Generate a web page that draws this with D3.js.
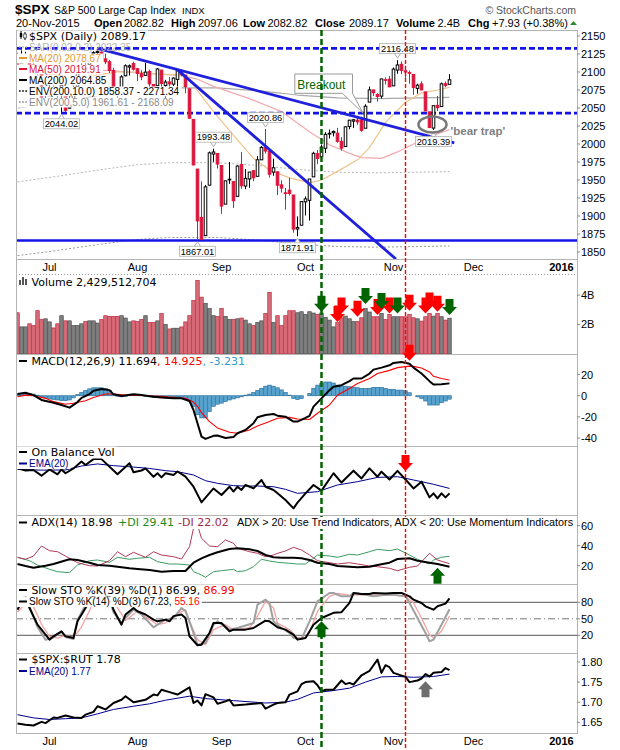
<!DOCTYPE html>
<html>
<head>
<meta charset="utf-8">
<title>$SPX Daily</title>
<script src="https://cdnjs.cloudflare.com/ajax/libs/d3/7.8.5/d3.min.js"></script>
<style>
  body { margin: 0; background: #fff; }
  svg { display: block; }
  text { white-space: pre; }
</style>
</head>
<body>
<div id="chart"></div>
<script>
// ---------- data (trading days 19-Jun-2015 .. 20-Nov-2015) ----------
var dates = ['06/19','06/22','06/23','06/24','06/25','06/26','06/29','06/30',
  '07/01','07/02','07/06','07/07','07/08','07/09','07/10','07/13','07/14','07/15','07/16','07/17','07/20','07/21','07/22','07/23','07/24','07/27','07/28','07/29','07/30','07/31',
  '08/03','08/04','08/05','08/06','08/07','08/10','08/11','08/12','08/13','08/14','08/17','08/18','08/19','08/20','08/21','08/24','08/25','08/26','08/27','08/28','08/31',
  '09/01','09/02','09/03','09/04','09/08','09/09','09/10','09/11','09/14','09/15','09/16','09/17','09/18','09/21','09/22','09/23','09/24','09/25','09/28','09/29','09/30',
  '10/01','10/02','10/05','10/06','10/07','10/08','10/09','10/12','10/13','10/14','10/15','10/16','10/19','10/20','10/21','10/22','10/23','10/26','10/27','10/28','10/29','10/30',
  '11/02','11/03','11/04','11/05','11/06','11/09','11/10','11/11','11/12','11/13','11/16','11/17','11/18','11/19','11/20'];

var opens = [2121.06,2112.50,2123.16,2123.65,2109.96,2102.62,2098.63,2061.19,2067.00,2078.03,
  2073.95,2069.52,2077.66,2049.73,2052.74,2080.03,2099.72,2109.01,2110.55,2126.80,
  2126.85,2127.55,2118.21,2114.16,2102.24,2078.19,2070.75,2094.70,2106.78,2111.60,
  2104.49,2097.68,2095.27,2100.75,2082.61,2080.98,2102.66,2081.10,2086.19,2083.15,
  2089.70,2101.99,2095.69,2076.61,2034.08,1965.15,1898.08,1872.75,1942.77,1986.06,
  1986.73,1970.09,1916.52,1950.79,1947.76,1927.30,1971.45,1941.59,1951.45,1963.06,
  1955.10,1978.02,1995.33,1989.66,1960.84,1961.39,1943.24,1932.24,1935.93,1929.18,
  1881.90,1887.14,1919.65,1921.77,1954.33,1986.63,1982.34,1994.01,2013.73,2015.65,
  2015.00,2003.66,1996.47,2024.37,2031.73,2033.13,2033.47,2021.88,2058.19,2075.08,
  2068.75,2066.48,2088.35,2090.00,2080.76,2102.63,2110.60,2101.68,2098.60,2096.56,
  2077.19,2083.41,2072.29,2044.64,2022.08,2053.67,2051.99,2083.70,2082.82];
var highs = [2126.69,2129.87,2128.03,2125.10,2116.04,2108.92,2098.63,2074.28,2082.78,2085.06,
  2078.61,2083.74,2077.66,2074.28,2081.31,2100.67,2111.98,2114.14,2124.42,2128.91,
  2132.82,2128.48,2125.55,2116.87,2106.01,2078.19,2095.60,2110.60,2110.48,2114.24,
  2105.70,2102.51,2112.66,2103.32,2082.61,2105.35,2102.66,2089.06,2092.93,2092.45,
  2102.87,2103.47,2096.17,2076.61,2034.08,1965.15,1948.04,1943.09,1989.60,1993.48,
  1986.73,1970.09,1948.91,1975.01,1947.76,1970.42,1988.63,1965.29,1961.05,1963.06,
  1983.19,1997.26,2020.86,1989.66,1979.64,1961.39,1949.52,1938.88,1952.89,1929.18,
  1899.48,1920.53,1927.21,1951.36,1989.17,1991.62,1999.31,2016.50,2020.13,2018.66,
  2022.34,2009.56,2024.15,2033.54,2034.45,2039.12,2037.97,2055.20,2079.74,2075.14,
  2070.37,2090.35,2092.52,2094.32,2106.20,2116.48,2114.59,2108.78,2101.91,2096.56,
  2083.67,2086.94,2072.29,2044.64,2053.22,2066.69,2085.31,2086.74,2097.06];
var lows = [2107.04,2112.50,2119.89,2108.58,2101.78,2095.38,2056.64,2056.32,2067.00,2071.02,
  2058.40,2044.02,2044.66,2049.73,2052.74,2080.03,2098.18,2102.49,2110.55,2119.88,
  2123.66,2115.40,2110.97,2098.63,2077.09,2063.52,2069.09,2094.08,2094.97,2102.07,
  2087.31,2088.60,2095.27,2075.53,2067.91,2080.98,2076.49,2052.09,2078.26,2080.61,
  2079.30,2094.14,2070.53,2035.73,1970.89,1867.01,1867.08,1872.75,1942.77,1975.19,
  1965.98,1903.07,1916.52,1944.72,1911.21,1927.30,1937.88,1937.19,1939.19,1948.27,
  1954.30,1977.93,1986.73,1953.45,1955.80,1929.22,1932.57,1908.90,1928.52,1876.92,
  1871.91,1887.14,1900.70,1893.70,1954.33,1971.99,1976.44,1987.53,2007.61,2010.55,
  2001.78,1990.73,1996.47,2020.46,2022.31,2026.61,2017.22,2021.88,2058.19,2066.53,
  2058.84,2063.11,2082.63,2079.34,2080.76,2097.51,2096.98,2090.41,2083.74,2068.24,
  2069.91,2074.85,2045.66,2022.02,2019.39,2045.90,2051.99,2078.76,2082.82];
var closes = [2109.99,2122.85,2124.20,2108.58,2102.31,2101.49,2057.64,2063.11,2077.42,2076.78,
  2068.76,2081.34,2046.68,2051.31,2076.62,2099.60,2108.95,2107.40,2124.29,2126.64,
  2128.28,2119.21,2114.15,2102.15,2079.65,2067.64,2093.25,2108.57,2108.63,2103.84,
  2098.04,2093.32,2099.84,2083.56,2077.57,2104.18,2084.07,2086.05,2083.39,2091.54,
  2102.44,2096.92,2079.61,2035.73,1970.89,1893.21,1867.61,1940.51,1987.66,1988.87,
  1972.18,1913.85,1948.86,1951.13,1921.22,1969.41,1942.04,1952.29,1961.05,1953.03,
  1978.09,1995.31,1990.20,1958.03,1966.97,1942.74,1938.76,1932.24,1931.34,1881.77,
  1884.09,1920.03,1923.82,1951.36,1987.05,1979.92,1995.83,2013.43,2014.89,2017.46,
  2003.69,1994.24,2023.86,2033.11,2033.66,2030.77,2018.94,2052.51,2075.15,2071.18,
  2065.89,2090.35,2089.41,2079.36,2104.05,2109.79,2102.31,2099.93,2099.20,2078.58,
  2081.72,2075.00,2045.97,2023.04,2053.19,2050.44,2083.58,2081.24,2089.17];
// volume, billions of shares
var volumes = [2.8,1.84,1.84,2.05,1.93,2.94,2.34,2.39,2.18,1.77,
  2.05,2.6,2.25,2.25,1.93,1.93,2.05,2.2,2.25,2.25,
  2.1,2.34,2.6,2.55,2.55,2.55,2.6,2.44,2.18,2.25,
  2.2,2.34,2.6,2.14,2.14,2.25,2.74,2.0,1.7,1.75,
  1.75,1.84,2.18,2.6,3.63,5.0,3.86,3.43,3.08,2.6,
  2.55,3.08,2.55,2.34,2.34,2.39,2.44,2.3,2.05,1.93,
  2.14,2.25,2.74,4.18,2.14,2.6,1.93,2.6,2.94,2.94,
  2.8,2.87,2.69,2.87,2.78,2.69,2.78,2.48,2.3,1.84,
  2.16,2.46,2.57,2.39,2.2,2.2,2.46,3.08,2.85,2.53,
  2.53,2.76,2.34,2.69,2.53,2.53,2.53,2.53,2.69,2.46,
  2.39,2.23,2.53,2.76,2.57,2.76,2.53,2.3,2.429512704];

// overlays, [trading day index, value]
var ma20 = [[0,2106],[8,2097],[15,2092],[20,2096],[25,2100],[30,2100],[35,2097],[41,2096],[43,2090],[45,2074],[49,2045],[54,2012],[59,1980],[63,1964],[68,1953],[73,1946],[76,1950],[80,1962],[85,1978],[88,1995],[92,2030],[97,2058],[101,2071],[105,2075],[108,2078.67]];
var ma50 = [[0,2102],[20,2103],[30,2099],[41,2095],[45,2090],[49,2080],[58,2063],[66,2045],[73,2017],[78,1999],[83,1987],[86,1981],[91,1980],[95,1989],[99,2000],[103,2010],[108,2019.91]];
var ma200 = [[0,2050],[10,2058],[20,2067],[30,2075],[38,2078],[50,2078],[60,2074],[70,2068],[80,2064],[90,2063],[100,2064],[108,2064.85]];
var env5Low = [[0,1947.5],[10,1955.1],[20,1963.7],[30,1971.3],[38,1974.1],[50,1974.1],[60,1970.3],[70,1964.6],[80,1960.8],[90,1959.9],[100,1960.8],[108,1961.61]];
var env10Low = [[0,1845.0],[10,1852.2],[20,1860.3],[30,1867.5],[38,1870.2],[50,1870.2],[60,1866.6],[70,1861.2],[80,1857.6],[90,1856.7],[100,1857.6],[108,1858.37]];

// indicators
var macdLine = [[0,1.6],[2,2.8],[4,0.6],[6,-4],[9,-6.6],[11,-8.8],[13,-11.3],[15,-6],[16,-2],[18,1.6],[19,4.7],[21,6.3],[23,5.3],[24,1.3],[26,-0.3],[29,1.3],[31,0.6],[34,-0.9],[36,-1.6],[39,-2.5],[41,-2.5],[43,-5],[44,-13.5],[45,-26],[46,-38.7],[47,-40.9],[49,-38],[50,-37.7],[52,-40],[54,-39],[55,-35.5],[57,-32.4],[59,-26],[60,-20.4],[62,-18.2],[64,-17.3],[65,-18.9],[67,-19.8],[69,-24.5],[70,-24.5],[72,-21],[73,-19],[74,-10.3],[76,-2.5],[78,5.3],[79,8.4],[81,10],[83,13.8],[84,16.3],[86,16.3],[88,21],[89,24.7],[91,26.6],[93,28.8],[94,31],[96,32],[98,30.3],[99,26.6],[101,21],[103,13.8],[104,10.6],[106,10.9],[108,11.694]];
var macdSignal = [[0,-0.9],[2,0.6],[4,0],[7,-2.5],[9,-5.6],[12,-8.1],[14,-7.2],[17,-4.7],[19,-1.6],[22,1.6],[24,1.6],[27,0.6],[29,0.6],[32,0],[34,-0.3],[37,-0.9],[39,-1.6],[42,-2.5],[44,-6],[45,-10],[46,-16],[48,-24.5],[50,-30.5],[53,-34.6],[55,-35.5],[58,-32.4],[60,-28.6],[63,-24.5],[65,-21.4],[68,-20.5],[70,-22],[73,-22.5],[75,-16.6],[78,-8.8],[80,0.6],[83,6.9],[85,11.6],[88,16.3],[90,21],[93,24],[95,26.6],[98,28],[99,27.8],[101,26.3],[103,22.5],[104,18.4],[106,16.3],[108,14.925]];
var macdHist = [1.5,2,2.2,2,1.5,0.5,-1,-2,-3,-3.5,
  -4,-4.5,-4.7,-4,-2,1,3,5,6.5,7.5,
  7.5,7.5,7,5,1.5,-0.5,-1,-0.5,0.3,0.5,
  0.5,0.2,-0.5,-1,-1.5,-1,-1.5,-2,-2,-1.5,
  -1,-1.5,-2.5,-5,-10,-18,-21,-21,-15,-10,
  -8,-7,-5.5,-4,-3,-2,-1,0.5,1.5,3,
  5,7,9,10,9,7.5,5.5,3,0.5,-2.5,
  -3.5,-2.5,0,2,7,10,11.6,13,13,12,
  10,9.4,9,8.5,8,7.6,7,6.7,7,7.9,
  7.9,7.9,7,6,6,5.3,5.3,4.7,2.8,0,
  -1,-2.5,-5,-8.8,-8.8,-8.8,-6.6,-5,-3.231];
var obv = [[0,13.6],[2,12.9],[4,13.05],[6,11.4],[8,13.2],[10,11.8],[11,13.2],[12,12.1],[14,13.5],[16,15.5],[17,14.5],[19,16.2],[21,16.2],[25,11.8],[28,15],[29,12.4],[31,12.9],[32,13.5],[34,11.1],[35,12.1],[36,10.9],[37,12.1],[39,11.6],[40,12.6],[42,11.1],[44,8.2],[46,3.67],[49,7.7],[51,5.8],[53,8.2],[54,6.8],[55,8.2],[56,7.25],[57,8.7],[59,7.7],[61,10.15],[62,8.2],[64,7.25],[65,6.28],[67,4.35],[69,1.93],[70,3.6],[72,6.28],[74,8.7],[76,7.05],[79,12.1],[81,9.4],[84,12.85],[86,10.6],[88,13.5],[90,11.1],[91,12.56],[93,10.3],[95,12.8],[97,10.3],[99,7.7],[101,9.66],[103,5.1],[104,6.28],[105,4.83],[106,6.28],[107,5.1],[108,6.28]];
var obvEma = [[0,13.2],[6,13.0],[12,13.05],[16,14.2],[20,14.8],[24,14.3],[29,13.9],[33,13.5],[37,12.85],[40,12.56],[44,11.6],[47,9.95],[50,9.18],[54,8.5],[57,8.4],[60,8.4],[64,8.2],[67,7.44],[70,6.28],[75,6.76],[80,8.7],[85,9.66],[90,10.9],[95,11.1],[99,10.15],[104,8.9],[108,7.7]];
var adx = [[0,21.7],[2,19.7],[4,18],[7,20],[9,21.7],[13,26.4],[15,25.7],[18,23],[20,20.7],[23,20],[25,19],[28,17.4],[30,16.7],[33,15.7],[36,14],[39,14.7],[42,14.7],[43,19],[44,23],[46,27.4],[48,30.7],[50,33.4],[53,36.7],[55,37.4],[58,36.4],[60,34.7],[62,30.7],[64,28.4],[66,28],[69,28],[71,27.4],[73,25.7],[75,23],[78,21.7],[80,19.7],[83,19],[85,18.4],[88,19],[90,20.7],[93,23],[95,26.7],[98,27.4],[100,25],[103,23],[105,21.7],[108,18.98]];
var plusDI = [[0,28.4],[3,25],[5,20.7],[8,16.4],[10,14],[13,13],[15,20.7],[18,25],[20,25.7],[23,23.4],[25,28.4],[28,26.4],[30,27.4],[33,28.4],[35,24],[38,21.7],[40,21.7],[43,20.7],[44,14],[46,10.7],[47,8.4],[49,14],[51,15],[54,16.4],[55,14],[57,15],[59,19],[61,26.4],[63,24.7],[65,23.4],[68,22.4],[70,21.7],[72,21.7],[74,27.4],[75,30.7],[78,29.7],[80,28.4],[83,31.4],[85,30.7],[88,34],[90,36.4],[93,35],[95,36.7],[98,30.7],[100,26.4],[103,21.7],[104,25.7],[106,28.4],[108,29.41]];
var minusDI = [[0,28.4],[2,26.4],[4,29.7],[6,39.7],[8,35],[10,34],[13,27.4],[15,23],[18,20],[20,19.7],[23,25],[25,34],[27,29],[29,33.4],[32,28.4],[34,34],[36,30.7],[39,29],[41,26.7],[43,39],[44,57.4],[45,60.7],[46,47.4],[48,39.7],[50,39],[52,45.7],[54,42.4],[55,37.4],[58,34],[60,32.4],[62,29],[64,30.7],[65,32.4],[67,34.7],[69,38.4],[71,35.7],[73,30.7],[75,25],[78,23],[80,21.7],[83,23],[85,21.7],[88,19.7],[90,19],[93,17.4],[95,15],[98,18.4],[100,19.7],[103,32.4],[105,25.7],[108,22.02]];
var stoK39 = [[0,66.6],[1,80],[2,88],[3,69.6],[5,39.3],[8,12.1],[9,18.2],[11,27.3],[12,18.2],[14,15.1],[15,45.4],[17,69.6],[18,82],[19,92],[21,96],[23,90],[24,66.6],[26,39.3],[27,57.8],[29,69.6],[30,63.8],[32,57.8],[34,48.5],[35,45.4],[37,48.5],[38,45.4],[39,54.9],[41,57.8],[42,51.5],[43,18.2],[45,1.9],[46,3],[48,24.2],[49,42.4],[51,42.4],[53,27.3],[54,30.3],[57,30.3],[59,33.3],[62,46.5],[63,45.4],[65,34.5],[67,30.3],[69,21.2],[70,12.1],[72,15.1],[74,39.3],[76,51.5],[79,60.8],[81,62],[83,78.8],[84,96.9],[86,95],[88,95],[89,96.9],[92,96],[94,96.9],[96,96.9],[98,90.8],[99,84.8],[101,78.8],[102,72.7],[104,66.6],[105,72.7],[107,77.6],[108,86.99]];
var stoK14 = [[0,70],[1,84],[2,92],[3,72],[5,35],[7,12],[9,16],[11,26],[12,17],[14,13],[15,48],[17,75],[18,88],[20,97],[22,95],[23,85],[24,62],[26,42.4],[27,51.5],[29,66.6],[31,57.8],[34,34.5],[35,39.3],[37,48.5],[39,51.5],[41,69.6],[42,63.8],[43,45],[44,24.2],[45,3],[47,6],[49,39.3],[50,45.4],[53,30.3],[55,33.3],[59,42.4],[60,75.8],[62,84.8],[63,78.8],[64,45.4],[66,33.3],[68,24.2],[69,15.1],[71,13.3],[73,45.4],[75,81.8],[78,97],[79,97],[81,90.8],[83,90.8],[84,97],[87,93.9],[89,90.8],[92,93.9],[94,93.9],[97,90.8],[98,78.8],[100,51.5],[102,24.2],[103,9.1],[104,12],[106,39.3],[108,67.23]];
var stoD3 = [[0,62],[2,78],[3,84],[4,72],[6,40],[8,18],[10,15],[12,20],[14,16],[16,35],[18,65],[19,80],[21,95],[23,92],[25,70],[27,47],[30,63.8],[35,39.3],[37,42.4],[39,54.9],[42,66.6],[43,45.4],[45,12.1],[47,3],[49,30.3],[52,39.3],[54,30.3],[58,33.3],[60,55],[62,81.8],[64,69.6],[65,42.4],[68,30.3],[70,15.1],[72,16],[73,25],[75,63.8],[78,90.8],[80,96],[83,93],[85,93.9],[88,93],[91,93],[94,93],[97,90.8],[99,78.8],[101,51.5],[103,21.2],[104,15.1],[106,27.3],[108,55.16]];
var spxRut = [[0,1.647],[2,1.644],[4,1.642],[6,1.651],[7,1.648],[9,1.662],[10,1.661],[12,1.667],[14,1.662],[16,1.661],[17,1.669],[19,1.676],[20,1.69],[22,1.682],[24,1.698],[26,1.706],[27,1.715],[29,1.70],[30,1.702],[32,1.706],[34,1.719],[35,1.717],[36,1.731],[38,1.725],[40,1.719],[43,1.737],[44,1.698],[45,1.704],[46,1.692],[47,1.72],[49,1.712],[50,1.696],[52,1.702],[53,1.706],[54,1.692],[57,1.694],[59,1.696],[61,1.698],[62,1.684],[64,1.694],[65,1.698],[67,1.70],[68,1.719],[70,1.727],[71,1.745],[72,1.750],[74,1.752],[75,1.742],[76,1.727],[77,1.731],[79,1.731],[81,1.754],[82,1.745],[83,1.748],[84,1.744],[86,1.767],[88,1.778],[89,1.792],[90,1.806],[91,1.773],[92,1.792],[93,1.787],[94,1.773],[97,1.763],[98,1.75],[100,1.754],[101,1.759],[102,1.770],[103,1.764],[104,1.773],[106,1.775],[107,1.785],[108,1.78]];
var spxRutEma = [[0,1.669],[4,1.661],[8,1.657],[12,1.659],[16,1.661],[20,1.671],[24,1.682],[29,1.69],[33,1.696],[37,1.705],[43,1.715],[47,1.709],[54,1.704],[62,1.698],[67,1.70],[70,1.707],[74,1.723],[79,1.729],[83,1.735],[87,1.75],[91,1.763],[95,1.764],[99,1.762],[104,1.764],[108,1.77]];

// annotations
var levelLines = [[2132.8, true], [2043, true], [1866, false]];   // [price, dashed]
var trendLines = [[[20, 2132.82], [109.2, 2001.5]], [[40, 2102.87], [94.6, 1840.3]]];
var peakLabels = [[95, 'high'], [11, 'low'], [49, 'high'], [62, 'high'], [45, 'low'], [70, 'low'], [104, 'low']];
var markerDays = [[76, '#006400'], [97, '#ff0000']];
var volRedArrows = [[80,2.18],[81,2.75],[85,2.52],[90,2.64],[93,2.75],[98,2.93],[102,2.75],[103,3.09],[105,2.86]];
var volGreenArrows = [[76,2.86],[87,3.39],[91,3.05],[95,2.75],[108,2.64]];

// axis ticks
var monthTicks = [['Jul',8],['Aug',30],['Sep',51],['Oct',72],['Nov',94],['Dec',114],['2016',136]];
var priceTicks = [1850,1875,1900,1925,1950,1975,2000,2025,2050,2075,2100,2125,2150];
var volTicks = [2,4];
var macdTicks = [20,0,-20,-40];
var adxTicks = [60,40,20];
var stoTicks = [80,50,20];
var rutTicks = [1.80,1.75,1.70,1.65];

// ---------- chart ----------
var W = 620, H = 750, L = 16, R = 577;
var VERD = "'DejaVu Sans', sans-serif", ARIAL = "'Liberation Sans', Arial, sans-serif";
var RED = '#dc143c';

var svg = d3.select('#chart').append('svg').attr('width', W).attr('height', H);
var defs = svg.append('defs');

var x = d3.scaleLinear().domain([-0.375, 139.875]).range([L, R]);

function makePanel(name, top, bottom, domain) {
  var p = {top: top, bottom: bottom};
  p.y = d3.scaleLinear().domain(domain).range([bottom, top]);
  defs.append('clipPath').attr('id', 'clip-' + name).append('rect')
    .attr('x', L).attr('y', top).attr('width', R - L).attr('height', bottom - top);
  p.g = svg.append('g').attr('clip-path', 'url(#clip-' + name + ')');
  return p;
}

function drawLine(p, data, color, width, dash) {
  p.g.append('path').datum(data)
    .attr('fill', 'none').attr('stroke', color).attr('stroke-width', width)
    .attr('stroke-dasharray', dash || null).attr('stroke-linejoin', 'round')
    .attr('d', d3.line().x(function(d) { return x(d[0]); }).y(function(d) { return p.y(d[1]); }));
}

function arrow(g, cx, tip, dir, color) {
  var s = dir === 'down' ? 1 : -1;
  var pts = [[cx - 4, tip - 16 * s], [cx + 4, tip - 16 * s], [cx + 4, tip - 8 * s], [cx + 7.5, tip - 8 * s],
    [cx, tip], [cx - 7.5, tip - 8 * s], [cx - 4, tip - 8 * s]];
  g.append('path').attr('d', 'M' + pts.join('L') + 'Z').attr('fill', color);
}

// header
var head = svg.append('g').attr('font-family', ARIAL);
head.append('text').attr('x', 15).attr('y', 14).attr('font-size', 13.5).attr('font-weight', 'bold').text('$SPX');
head.append('text').attr('x', 54).attr('y', 14).attr('font-size', 10.5).text('S&P 500 Large Cap Index');
head.append('text').attr('x', 182).attr('y', 14).attr('font-size', 9.5).text('INDX');
head.append('text').attr('x', 576).attr('y', 14).attr('font-size', 10.5).attr('fill', '#555')
  .attr('text-anchor', 'end').text('\u00a9 StockCharts.com');
var quote = [['20-Nov-2015',16,0],['Open',94,1],['2082.82',124,0],['High',171,1],['2097.06',198,0],
  ['Low',243,1],['2082.82',267.5,0],['Close',315,1],['2089.17',349,0],['Volume',396,1],['2.4B',437.5,0],
  ['Chg',468,1],['+7.93 (+0.38%)',492,0]];
quote.forEach(function(q) {
  head.append('text').attr('x', q[1]).attr('y', 26.5).attr('font-size', 11)
    .attr('font-weight', q[2] ? 'bold' : 'normal').text(q[0]);
});
head.append('path').attr('d', 'M570,25L577,25L573.5,21Z').attr('fill', '#2e8b2e');

// panels
var price = makePanel('price', 30, 259, [1840.3, 2158.3]);
var vol = makePanel('vol', 274, 354, [0, 5.43]);
var macd = makePanel('macd', 354, 446, [-47.6, 39.5]);
var obvP = makePanel('obv', 446, 515, [0, 20]);
var adxP = makePanel('adx', 515, 584, [1.7, 70.7]);
var sto = makePanel('sto', 584, 653, [-12.2, 113.3]);
var rut = makePanel('rut', 653, 733, [1.6234, 1.8224]);

var bars = closes.map(function(c, i) {
  return {i: i, o: opens[i], h: highs[i], l: lows[i], c: c, v: volumes[i],
    up: i === 0 ? c >= opens[i] : c >= closes[i - 1]};
});

// ---- price panel ----
drawLine(price, env10Low, '#9a9a9a', 1, '2,2');
drawLine(price, env5Low, '#b5b5b5', 1, '2,2');
drawLine(price, ma200, '#a8a8a8', 1.2);
drawLine(price, ma50, '#f3a9ae', 1.2);
drawLine(price, ma20, '#f0c48a', 1.2);

levelLines.forEach(function(l) {
  price.g.append('line').attr('x1', L).attr('x2', R)
    .attr('y1', price.y(l[0])).attr('y2', price.y(l[0]))
    .attr('stroke', '#1414e6').attr('stroke-width', 2.7)
    .attr('stroke-dasharray', l[1] ? '6,3' : null);
});

price.g.selectAll('.wick').data(bars).enter().append('line')
  .attr('x1', function(d) { return x(d.i); }).attr('x2', function(d) { return x(d.i); })
  .attr('y1', function(d) { return price.y(d.h); }).attr('y2', function(d) { return price.y(d.l); })
  .attr('stroke', function(d) { return d.up ? '#000' : RED; }).attr('stroke-width', 1);
price.g.selectAll('.body').data(bars).enter().append('rect')
  .attr('x', function(d) { return x(d.i) - 1.3; }).attr('width', 2.6)
  .attr('y', function(d) { return price.y(Math.max(d.o, d.c)); })
  .attr('height', function(d) { return Math.max(0.8, price.y(Math.min(d.o, d.c)) - price.y(Math.max(d.o, d.c))); })
  .attr('fill', function(d) { return d.c > d.o ? '#fff' : (d.up ? '#000' : RED); })
  .attr('stroke', function(d) { return d.up ? '#000' : RED; }).attr('stroke-width', 1);

trendLines.forEach(function(t) { drawLine(price, t, '#1f1fdc', 2.8); });

// peak / trough labels
peakLabels.forEach(function(p) {
  var i = p[0], isHigh = p[1] === 'high';
  var val = isHigh ? highs[i] : lows[i];
  var cx = x(i), py = price.y(val);
  var top = isHigh ? py - 16.5 : py + 6.5;
  var g = price.g.append('g');
  if (isHigh) {
    g.append('path').attr('d', 'M' + (cx - 3) + ',' + (top + 10) + 'L' + cx + ',' + (py - 2) + 'L' + (cx + 3) + ',' + (top + 10))
      .attr('fill', '#fff').attr('stroke', '#aaa');
  } else {
    g.append('path').attr('d', 'M' + (cx - 3) + ',' + top + 'L' + cx + ',' + (py + 2) + 'L' + (cx + 3) + ',' + top)
      .attr('fill', '#fff').attr('stroke', '#aaa');
  }
  g.append('rect').attr('x', cx - 18).attr('y', top).attr('width', 36).attr('height', 10)
    .attr('fill', '#fff').attr('stroke', '#b0b0b0').attr('stroke-width', 0.8);
  g.append('text').attr('x', cx).attr('y', top + 8.3).attr('text-anchor', 'middle')
    .attr('font-family', ARIAL).attr('font-size', 9.3).text(val.toFixed(2));
});

// breakout callout
(function() {
  var tx = x(86.4), ty = price.y(2042.6);
  var l = tx - 68.3, r = tx - 10.6, t = ty - 39.3, b = ty - 20;
  price.g.append('path')
    .attr('d', 'M' + l + ',' + t + 'H' + r + 'V' + b + 'L' + tx + ',' + ty + 'L' + (r - 10) + ',' + b + 'H' + l + 'Z')
    .attr('fill', '#fff').attr('stroke', '#999').attr('stroke-width', 1);
  price.g.append('text').attr('x', l + 2.5).attr('y', b - 4).attr('font-family', ARIAL)
    .attr('font-size', 12).attr('fill', '#006400').text('Breakout');
})();

// bear trap
(function() {
  var cx = x(103.75), cy = price.y(2027);
  price.g.append('ellipse').attr('cx', cx).attr('cy', cy).attr('rx', 14).attr('ry', 8)
    .attr('fill', 'none').attr('stroke', '#777').attr('stroke-width', 2.5);
  price.g.append('text').attr('x', cx + 18).attr('y', cy + 10).attr('font-family', ARIAL)
    .attr('font-size', 11.5).attr('font-weight', 'bold').attr('fill', '#808080').text("'bear trap'");
})();

// ---- volume ----
vol.g.selectAll('rect').data(bars).enter().append('rect')
  .attr('x', function(d) { return x(d.i) - 1.75; }).attr('width', 3.5)
  .attr('y', function(d) { return vol.y(d.v); })
  .attr('height', function(d) { return vol.y(0) - vol.y(d.v); })
  .attr('fill', function(d) { return d.up ? '#808080' : '#d66d7a'; })
  .attr('stroke', function(d) { return d.up ? '#4a4a4a' : '#c0283f'; }).attr('stroke-width', 0.7);

// ---- MACD ----
macd.g.selectAll('rect').data(macdHist).enter().append('rect')
  .attr('x', function(d, i) { return x(i) - 1.75; }).attr('width', 3.5)
  .attr('y', function(d) { return macd.y(Math.max(0, d)); })
  .attr('height', function(d) { return Math.abs(macd.y(d) - macd.y(0)); })
  .attr('fill', '#5aa5d0').attr('stroke', '#2b6f9e').attr('stroke-width', 0.7);
drawLine(macd, macdSignal, '#ff0000', 1.1);
drawLine(macd, macdLine, '#000', 2);

// ---- OBV ----
drawLine(obvP, obvEma, '#00008b', 1);
drawLine(obvP, obv, '#000', 2);

// ---- ADX ----
drawLine(adxP, plusDI, '#3c9b5f', 1);
drawLine(adxP, minusDI, '#b03a5a', 1);
drawLine(adxP, adx, '#000', 2);

// ---- Slow STO ----
stoTicks.forEach(function(v) {
  sto.g.append('line').attr('x1', L).attr('x2', R).attr('y1', sto.y(v)).attr('y2', sto.y(v))
    .attr('stroke', v === 50 ? '#777' : '#555').attr('stroke-width', 1)
    .attr('stroke-dasharray', v === 50 ? '7,3,1,3' : null);
});
drawLine(sto, stoD3, '#f5a3a3', 1.3);
drawLine(sto, stoK14, '#a0a0a0', 2);
drawLine(sto, stoK39, '#000', 2);

// ---- SPX:RUT ----
drawLine(rut, spxRutEma, '#00008b', 1);
drawLine(rut, spxRut, '#000', 2);

// ---- frames ----
var frame = svg.append('g').attr('stroke', '#b4b4b4').attr('stroke-width', 1).attr('fill', 'none');
[30.5, 259.5, 354.5, 446.5, 515.5, 584.5, 653.5, 733.5].forEach(function(y) {
  frame.append('line').attr('x1', L).attr('x2', R).attr('y1', y).attr('y2', y);
});
frame.append('line').attr('x1', L).attr('x2', R).attr('y1', 274.5).attr('y2', 274.5)
  .attr('stroke', '#999').attr('stroke-dasharray', '1,2');
frame.append('line').attr('x1', L + 0.5).attr('x2', L + 0.5).attr('y1', 30).attr('y2', 734);
frame.append('line').attr('x1', R + 0.5).attr('x2', R + 0.5).attr('y1', 30).attr('y2', 734);

// marker days (vertical dashed lines)
markerDays.forEach(function(m) {
  svg.append('line').attr('x1', x(m[0])).attr('x2', x(m[0])).attr('y1', 30).attr('y2', 750)
    .attr('stroke', m[1]).attr('stroke-width', m[1] === '#006400' ? 2.5 : 1.4)
    .attr('stroke-dasharray', m[1] === '#006400' ? '6,3' : '4,2');
});

// arrows
var arrowsG = svg.append('g');
volRedArrows.forEach(function(a) { arrow(arrowsG, x(a[0]), vol.y(a[1]), 'down', '#ff0000'); });
volGreenArrows.forEach(function(a) { arrow(arrowsG, x(a[0]), vol.y(a[1]), 'down', '#006400'); });
arrow(arrowsG, x(98), macd.y(33.1), 'down', '#ff0000');
arrow(arrowsG, x(97), obvP.y(12.75), 'down', '#ff0000');
arrow(arrowsG, x(105), adxP.y(18), 'up', '#006400');
arrow(arrowsG, x(76), sto.y(45.5), 'up', '#006400');
arrow(arrowsG, x(102), rut.y(1.752), 'up', '#6e6e6e');

// ---- legends ----
function legend(xp, y, parts, font, size, bg) {
  var g = svg.append('g');
  var rect = g.append('rect').attr('fill', '#fff');
  var t = g.append('text').attr('x', xp).attr('y', y).attr('font-family', font).attr('font-size', size);
  parts.forEach(function(p) {
    var ts = t.append('tspan').attr('fill', p.c || '#000').text(p.t);
    if (p.x != null) ts.attr('x', p.x);
    if (p.f) ts.attr('font-family', p.f);
    if (p.s) ts.attr('font-size', p.s);
  });
  if (bg === false) { rect.remove(); }
  else {
    var bb = t.node().getBBox();
    rect.attr('x', L + 1).attr('y', bb.y + 1).attr('width', bb.x + bb.width + 2 - L - 1).attr('height', bb.height - 1);
  }
  return g;
}
function dashIcon(g, y, color) {
  g.append('line').attr('x1', 19).attr('x2', 27).attr('y1', y - 3.5).attr('y2', y - 3.5)
    .attr('stroke', color).attr('stroke-width', 2);
}
function dotIcon(g, y, color) {
  g.append('line').attr('x1', 19).attr('x2', 27).attr('y1', y - 3.5).attr('y2', y - 3.5)
    .attr('stroke', color).attr('stroke-width', 1.6).attr('stroke-dasharray', '1.6,1.6');
}

var lg = legend(29, 39.5, [{t: '$SPX (Daily) 2089.17'}], VERD, 11);
lg.append('line').attr('x1', 21).attr('x2', 21).attr('y1', 31).attr('y2', 39).attr('stroke', '#000');
lg.append('rect').attr('x', 19.8).attr('y', 33).attr('width', 2.4).attr('height', 4).attr('fill', '#000');
lg.append('line').attr('x1', 25).attr('x2', 25).attr('y1', 32).attr('y2', 40).attr('stroke', '#000');
lg.append('rect').attr('x', 23.8).attr('y', 34).attr('width', 2.4).attr('height', 4).attr('fill', '#fff').attr('stroke', '#000').attr('stroke-width', 0.6);
lg = legend(29, 50.5, [{t: 'SAR(0.02,0.2) 2022.35', c: '#b4b4b4'}], ARIAL, 10, false); dotIcon(lg, 50.5, '#b4b4b4');
lg = legend(29, 61.5, [{t: 'MA(20) 2078.67', c: '#e39a2d'}], ARIAL, 10); dashIcon(lg, 61.5, '#e39a2d');
lg = legend(29, 72.5, [{t: 'MA(50) 2019.91', c: RED}], ARIAL, 10); dashIcon(lg, 72.5, RED);
lg = legend(29, 83.5, [{t: 'MA(200) 2064.85'}], ARIAL, 10); dashIcon(lg, 83.5, '#000');
lg = legend(29, 94.5, [{t: 'ENV(200,10.0) 1858.37 - 2271.34'}], ARIAL, 10); dotIcon(lg, 94.5, '#000');
lg = legend(29, 105.5, [{t: 'ENV(200,5.0) 1961.61 - 2168.09', c: '#8a8a8a'}], ARIAL, 10); dotIcon(lg, 105.5, '#8a8a8a');

lg = legend(31.5, 285.5, [{t: 'Volume ' + d3.format(',')(Math.round(volumes[volumes.length - 1] * 1e9))}], VERD, 11);
[[19, 5], [22, 8], [25, 6]].forEach(function(b) {
  lg.append('rect').attr('x', b[0]).attr('y', 285 - b[1]).attr('width', 2).attr('height', b[1]).attr('fill', '#555');
});
lg = legend(31.5, 364.5, [{t: 'MACD(12,26,9) 11.694'}, {t: ', 14.925', c: '#ff0000'}, {t: ', -3.231', c: '#3399cc'}], VERD, 11);
dashIcon(lg, 364.5, '#000');
lg = legend(31.5, 455.5, [{t: 'On Balance Vol'}], VERD, 11); dashIcon(lg, 455.5, '#000');
lg = legend(29, 467, [{t: 'EMA(20)', c: '#00008b'}], ARIAL, 10); dashIcon(lg, 467, '#00008b');
lg = legend(31.5, 526, [{t: 'ADX(14) 18.98'}, {t: '+DI 29.41', c: '#1a8a1a', x: 118}, {t: '-DI 22.02', c: '#a0284a', x: 178},
  {t: 'ADX > 20: Use Trend Indicators, ADX < 20: Use Momentum Indicators', x: 237, f: ARIAL, s: 10.8}], VERD, 11);
dashIcon(lg, 526, '#000');
lg = legend(31.5, 593.5, [{t: 'Slow STO %K(39) %D(1) 86.99, '}, {t: '86.99', c: '#ff0000'}], VERD, 10.8); dashIcon(lg, 593.5, '#000');
lg = legend(29, 605, [{t: 'Slow STO %K(14) %D(3) 67.23, '}, {t: '55.16', c: '#ff0000'}], ARIAL, 10); dashIcon(lg, 605, '#000');
lg = legend(31.5, 663, [{t: '$SPX:$RUT 1.78'}], VERD, 11); dashIcon(lg, 663, '#000');
lg = legend(29, 674.5, [{t: 'EMA(20) 1.77', c: '#00008b'}], ARIAL, 10); dashIcon(lg, 674.5, '#00008b');

// ---- axes ----
var axisG = svg.append('g').attr('font-family', ARIAL).attr('font-size', 11);
function rightAxis(p, ticks, fmt) {
  ticks.forEach(function(v) {
    var y = p.y(v);
    axisG.append('line').attr('x1', R).attr('x2', R + 3).attr('y1', y).attr('y2', y).attr('stroke', '#888');
    axisG.append('text').attr('x', 581).attr('y', y).attr('dy', '0.36em').text(fmt(v));
  });
}
rightAxis(price, priceTicks, String);
rightAxis(vol, volTicks, function(v) { return v + 'B'; });
rightAxis(macd, macdTicks, String);
rightAxis(adxP, adxTicks, String);
rightAxis(sto, stoTicks, String);
rightAxis(rut, rutTicks, function(v) { return v.toFixed(2); });

[271, 745].forEach(function(y) {
  monthTicks.forEach(function(m) {
    axisG.append('text').attr('x', x(m[1])).attr('y', y).attr('text-anchor', 'middle')
      .attr('font-weight', m[0] === '2016' ? 'bold' : 'normal').text(m[0]);
  });
});
</script>
</body>
</html>
